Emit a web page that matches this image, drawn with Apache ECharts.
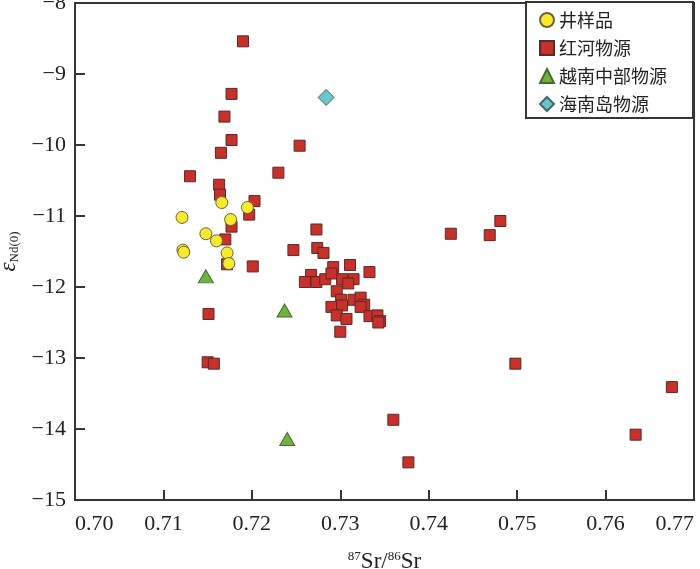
<!DOCTYPE html>
<html>
<head>
<meta charset="utf-8">
<script src="https://cdn.jsdelivr.net/npm/echarts@6/dist/echarts.min.js"></script>
<style>
html, body { margin: 0; padding: 0; background: #fff; }
#main { width: 700px; height: 569px; }
</style>
</head>
<body>
<div id="main"></div>
<script>
// series names
var names = ["井样品", "红河物源", "越南中部物源", "海南岛物源"];

// 87Sr/86Sr, eNd(0)
var wellSamples = [
    [0.7166, -10.81], [0.7195, -10.88], [0.7121, -11.02], [0.7176, -11.05],
    [0.7148, -11.25], [0.7160, -11.35], [0.7122, -11.48], [0.7123, -11.51],
    [0.7172, -11.52], [0.7174, -11.67]
];

var redRiver = [
    [0.7190, -8.54], [0.7177, -9.28], [0.7169, -9.60], [0.7177, -9.93],
    [0.7165, -10.11], [0.7130, -10.44], [0.7230, -10.39], [0.7254, -10.01],
    [0.7163, -10.56], [0.7164, -10.70], [0.7203, -10.79], [0.7197, -10.98],
    [0.7177, -11.15], [0.7170, -11.33], [0.7172, -11.68], [0.7201, -11.71],
    [0.7247, -11.48], [0.7273, -11.19], [0.7274, -11.45], [0.7281, -11.52],
    [0.7292, -11.72], [0.7311, -11.69], [0.7333, -11.79], [0.7267, -11.83],
    [0.7260, -11.93], [0.7273, -11.93], [0.7283, -11.89], [0.7290, -11.81],
    [0.7302, -11.89], [0.7315, -11.89], [0.7309, -11.95], [0.7296, -12.06],
    [0.7301, -12.18], [0.7315, -12.18], [0.7323, -12.15], [0.7327, -12.25],
    [0.7323, -12.28], [0.7290, -12.28], [0.7302, -12.26], [0.7296, -12.40],
    [0.7307, -12.45], [0.7333, -12.41], [0.7342, -12.40], [0.7345, -12.48],
    [0.7343, -12.50], [0.7300, -12.63], [0.7151, -12.38], [0.7150, -13.06],
    [0.7157, -13.08], [0.7481, -11.07], [0.7425, -11.25], [0.7469, -11.27],
    [0.7498, -13.08], [0.7360, -13.87], [0.7377, -14.47], [0.7675, -13.41],
    [0.7634, -14.08]
];

var centralVietnam = [
    [0.7148, -11.85], [0.7237, -12.33], [0.7240, -14.14]
];

var hainan = [
    [0.7284, -9.33]
];

var xTicks = [0.70, 0.71, 0.72, 0.73, 0.74, 0.75, 0.76, 0.77];

var axisColor = "#3a332f";
var serif = "'Liberation Serif', 'Times New Roman', serif";

var myChart = echarts.init(document.getElementById("main"));

var option = {
    backgroundColor: "#fff",
    animation: false,
    grid: {
        left: 75,
        right: 6,
        top: 3,
        bottom: 69,
        outerBoundsMode: "none",
        containLabel: false,
        show: true,
        borderColor: axisColor,
        borderWidth: 2
    },
    legend: {
        data: names,
        orient: "vertical",
        left: 526,
        top: 2,
        itemWidth: 14,
        itemHeight: 14,
        itemGap: 10,
        padding: [9, 26, 5, 13],
        borderColor: axisColor,
        borderWidth: 2,
        backgroundColor: "#fff",
        textStyle: {
            fontFamily: "Noto Sans CJK SC",
            fontSize: 18,
            color: "#222"
        }
    },
    xAxis: {
        type: "value",
        min: xTicks[0],
        max: xTicks[xTicks.length - 1],
        interval: 0.01,
        name: "{sup|87}{n|Sr/}{sup|86}{n|Sr}",
        nameLocation: "middle",
        nameGap: 50,
        nameTextStyle: {
            rich: {
                n: { fontFamily: serif, fontSize: 23, color: "#222", lineHeight: 24 },
                sup: { fontFamily: serif, fontSize: 13, color: "#222", verticalAlign: "top", lineHeight: 24, padding: [0, 0, 10, 0] }
            }
        },
        axisLine: { lineStyle: { color: axisColor, width: 2 } },
        axisTick: { inside: true, length: 10, lineStyle: { color: axisColor, width: 2 } },
        axisLabel: {
            margin: 13,
            fontFamily: serif,
            fontSize: 22,
            color: "#222",
            alignMinLabel: "left",
            alignMaxLabel: "right",
            formatter: function (v) { return v.toFixed(2); }
        },
        splitLine: { show: false }
    },
    yAxis: {
        type: "value",
        min: -15,
        max: -8,
        interval: 1,
        name: "{e|ε}{s|Nd(0)}",
        nameLocation: "middle",
        nameGap: 44,
        nameRotate: 90,
        nameTextStyle: {
            rich: {
                e: { fontFamily: serif, fontSize: 23, fontStyle: "italic", color: "#222", lineHeight: 24 },
                s: { fontFamily: serif, fontSize: 13, color: "#222", verticalAlign: "bottom", lineHeight: 24, padding: [8, 0, 0, 0] }
            }
        },
        axisLine: { show: true, lineStyle: { color: axisColor, width: 2 } },
        axisTick: { show: true, inside: true, length: 10, lineStyle: { color: axisColor, width: 2 } },
        axisLabel: {
            margin: 9,
            fontFamily: serif,
            fontSize: 22,
            color: "#222",
            formatter: function (v) { return "\u2212" + Math.abs(v); }
        },
        splitLine: { show: false }
    },
    series: [{
        name: names[0],
        type: "scatter",
        z: 4,
        symbol: "circle",
        symbolSize: 12,
        data: wellSamples,
        itemStyle: { color: "#f6ec2b", borderColor: "#6b6040", borderWidth: 1, opacity: 1 }
    }, {
        name: names[1],
        type: "scatter",
        z: 2,
        symbol: "rect",
        symbolSize: 11,
        data: redRiver,
        itemStyle: { color: "#c8302b", borderColor: "#5a2a26", borderWidth: 1, opacity: 1 }
    }, {
        name: names[2],
        type: "scatter",
        z: 3,
        symbol: "triangle",
        symbolSize: [15, 13],
        data: centralVietnam,
        itemStyle: { color: "#6db33f", borderColor: "#4a6a30", borderWidth: 1, opacity: 1 }
    }, {
        name: names[3],
        type: "scatter",
        z: 3,
        symbol: "diamond",
        symbolSize: 16,
        data: hainan,
        itemStyle: { color: "#6cc4c8", borderColor: "#44686a", borderWidth: 1, opacity: 1 }
    }]
};

myChart.setOption(option);
window.addEventListener("resize", function () {
    myChart.resize();
});
</script>
</body>
</html>
